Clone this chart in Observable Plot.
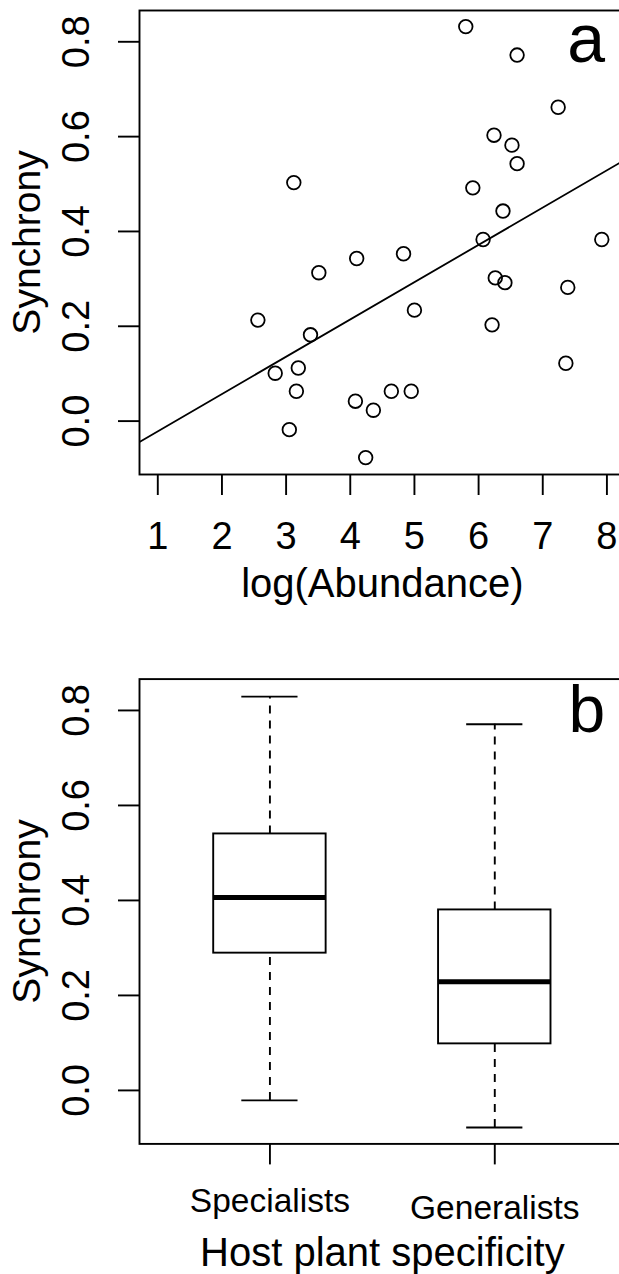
<!DOCTYPE html>
<html><head><meta charset="utf-8">
<script src="https://cdn.jsdelivr.net/npm/d3@7"></script>
<script src="https://cdn.jsdelivr.net/npm/@observablehq/plot@0.6"></script>
<style>
html,body{margin:0;padding:0;background:#fff;overflow:hidden;}
#chart svg{display:block;}
</style></head><body><div id="chart"></div>
<script>
// Panel a data: log(Abundance) vs Synchrony
const abundance = [5.80, 6.60, 7.24, 6.24, 6.52, 6.60, 3.12, 5.91, 6.38, 6.07, 7.92, 4.83, 4.10, 3.51, 6.26, 6.41, 7.39, 5.00, 2.56, 6.21, 3.38, 7.36, 3.19, 2.83, 3.16, 4.64, 4.95, 4.08, 4.36, 3.05, 4.24];
const synchrony = [0.832, 0.772, 0.662, 0.603, 0.582, 0.543, 0.503, 0.492, 0.443, 0.383, 0.383, 0.353, 0.343, 0.313, 0.302, 0.292, 0.282, 0.234, 0.213, 0.203, 0.182, 0.122, 0.112, 0.101, 0.063, 0.063, 0.063, 0.042, 0.023, -0.018, -0.077];
// fitted regression line, read at the two ends of the panel
const fitX = [0.715, 8.19];
const fitY = [-0.044, 0.544];
const xTicks = [1, 2, 3, 4, 5, 6, 7, 8];
const yTicks = [0, 0.2, 0.4, 0.6, 0.8];

// Panel b data: boxplot summary by host plant specificity
const groups = ["Specialists", "Generalists"];
const whiskerLow = [-0.021, -0.078];
const q1 = [0.289, 0.098];
const median = [0.406, 0.229];
const q3 = [0.540, 0.380];
const whiskerHigh = [0.829, 0.771];

const FONT = '"Liberation Sans", Arial, Helvetica, sans-serif';
const LW = 1.9;
const yDomain = [-0.1126, 0.866];

const pts = abundance.map((x, i) => ({x, y: synchrony[i]}));
const fit = fitX.map((x, i) => ({x, y: fitY[i]}));

const plotA = Plot.plot({
  width: 619, height: 630,
  marginTop: 10, marginBottom: 156, marginLeft: 139, marginRight: -5.7,
  x: {domain: [0.715, 8.285]},
  y: {domain: yDomain},
  style: {fontFamily: FONT, background: "white", color: "black"},
  marks: [
    Plot.line(fit, {x: "x", y: "y", stroke: "black", strokeWidth: 1.8, clip: true}),
    Plot.dot(pts, {x: "x", y: "y", r: 6.8, stroke: "black", strokeWidth: 1.8, fill: "none"}),
    Plot.frame({stroke: "black", strokeWidth: LW}),
    Plot.axisX({ticks: xTicks, tickSize: 21, tickPadding: 27, fontSize: 38, tickFormat: d => String(d), label: null, strokeWidth: LW}),
    Plot.axisY({ticks: yTicks, tickSize: 21, tickFormat: () => "", label: null, strokeWidth: LW}),
    Plot.text(yTicks, {y: d => d, text: d => d.toFixed(1), frameAnchor: "left", dx: -63, rotate: -90, textAnchor: "middle", lineAnchor: "middle", fontSize: 38}),
    Plot.text(["Synchrony"], {text: d => d, frameAnchor: "left", dx: -112, rotate: -90, textAnchor: "middle", lineAnchor: "middle", fontSize: 39}),
    Plot.text(["log(Abundance)"], {text: d => d, frameAnchor: "bottom", dy: 94, lineAnchor: "top", fontSize: 40}),
    Plot.text(["a"], {text: d => d, frameAnchor: "top-right", textAnchor: "end", dx: -20, dy: 51, lineAnchor: "bottom", fontSize: 68})
  ]
});

const boxes = groups.map((g, i) => ({g, pos: i + 1, lo: whiskerLow[i], q1: q1[i], med: median[i], q3: q3[i], hi: whiskerHigh[i]}));
const BW = 0.25, CW = 0.125;
const labelDy = [44.6, 51.6];

const plotB = Plot.plot({
  width: 619, height: 644,
  marginTop: 48.6, marginBottom: 130.6, marginLeft: 139, marginRight: -5.7,
  x: {domain: [0.42, 2.58]},
  y: {domain: yDomain},
  style: {fontFamily: FONT, background: "white", color: "black"},
  marks: [
    Plot.ruleX(boxes, {x: "pos", y1: "q3", y2: "hi", stroke: "black", strokeWidth: LW, strokeDasharray: "8,7"}),
    Plot.ruleX(boxes, {x: "pos", y1: "lo", y2: "q1", stroke: "black", strokeWidth: LW, strokeDasharray: "8,7"}),
    Plot.ruleY(boxes, {y: "hi", x1: d => d.pos - CW, x2: d => d.pos + CW, stroke: "black", strokeWidth: LW}),
    Plot.ruleY(boxes, {y: "lo", x1: d => d.pos - CW, x2: d => d.pos + CW, stroke: "black", strokeWidth: LW}),
    Plot.rect(boxes, {x1: d => d.pos - BW, x2: d => d.pos + BW, y1: "q1", y2: "q3", fill: "white", stroke: "black", strokeWidth: LW}),
    Plot.ruleY(boxes, {y: "med", x1: d => d.pos - BW, x2: d => d.pos + BW, stroke: "black", strokeWidth: 5}),
    Plot.frame({stroke: "black", strokeWidth: LW}),
    Plot.axisX({ticks: groups.map((g, i) => i + 1), tickSize: 21, tickFormat: () => "", label: null, strokeWidth: LW}),
    Plot.axisY({ticks: yTicks, tickSize: 21, tickFormat: () => "", label: null, strokeWidth: LW}),
    ...boxes.map((b, i) => Plot.text([b], {x: "pos", text: "g", frameAnchor: "bottom", dy: labelDy[i], lineAnchor: "top", fontSize: 33.5})),
    Plot.text(yTicks, {y: d => d, text: d => d.toFixed(1), frameAnchor: "left", dx: -63, rotate: -90, textAnchor: "middle", lineAnchor: "middle", fontSize: 38}),
    Plot.text(["Synchrony"], {text: d => d, frameAnchor: "left", dx: -112, rotate: -90, textAnchor: "middle", lineAnchor: "middle", fontSize: 39}),
    Plot.text(["Host plant specificity"], {text: d => d, frameAnchor: "bottom", dy: 121.6, lineAnchor: "bottom", fontSize: 40}),
    Plot.text(["b"], {text: d => d, frameAnchor: "top-right", textAnchor: "end", dx: -20, dy: 53, lineAnchor: "bottom", fontSize: 66})
  ]
});

document.getElementById("chart").append(plotA, plotB);
</script>
</body></html>
